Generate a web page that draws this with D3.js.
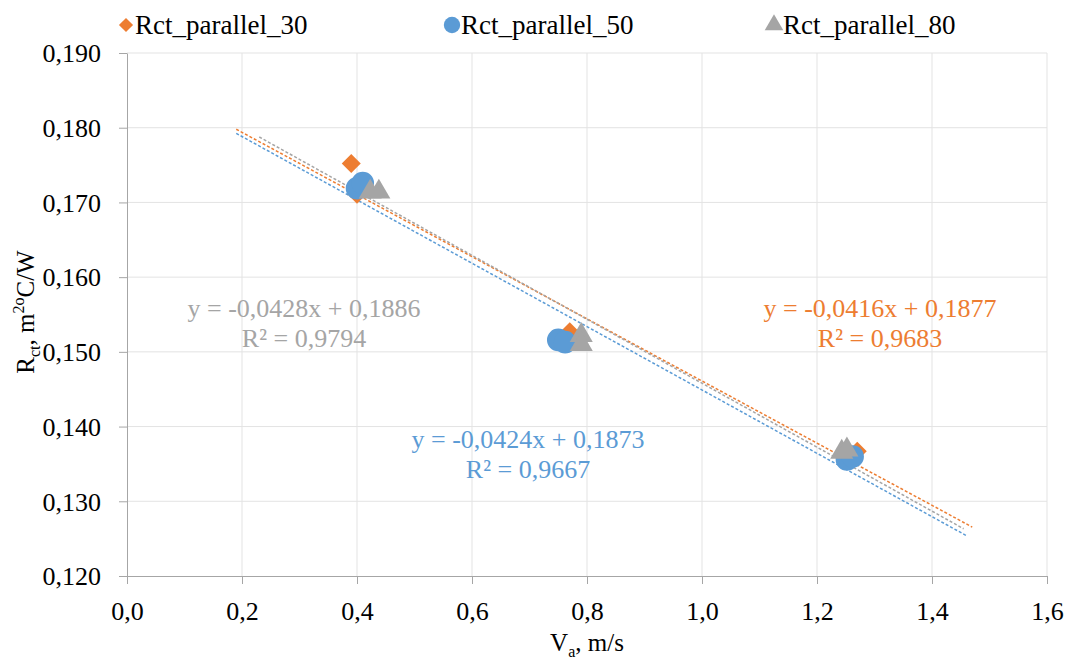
<!DOCTYPE html>
<html>
<head>
<meta charset="utf-8">
<script src="https://cdn.jsdelivr.net/npm/d3@7"></script>
<style>
	body { margin: 0; background: #fff; }
	text { font-family: "Liberation Serif", "Times New Roman", serif; }
</style>
</head>
<body>
<svg id="chart" width="1068" height="659"></svg>
<script>
// series values
var v30 = [0.39, 0.40, 0.77, 1.27];
var r30 = [0.1752, 0.1711, 0.1527, 0.1367];
var v50 = [0.40, 0.41, 0.75, 0.762, 1.252, 1.262];
var r50 = [0.1719, 0.1726, 0.1516, 0.1513, 0.1356, 0.1360];
var v80 = [0.423, 0.438, 0.79, 0.79, 1.243, 1.252];
var r80 = [0.1714, 0.1714, 0.1522, 0.1510, 0.1366, 0.1369];

var seriesNames = ["Rct_parallel_30", "Rct_parallel_50", "Rct_parallel_80"];
var slopes = [-0.0416, -0.0424, -0.0428];
var intercepts = [0.1877, 0.1873, 0.1886];
var r2 = ["0,9683", "0,9667", "0,9794"];
var trendStart = [0.19, 0.19, 0.23];
var trendEnd = [1.47, 1.46, 1.455];

var xTicks = [0, 0.2, 0.4, 0.6, 0.8, 1.0, 1.2, 1.4, 1.6];
var yTicks = [0.12, 0.13, 0.14, 0.15, 0.16, 0.17, 0.18, 0.19];

var colors = ["#ED7D31", "#5B9BD5", "#A5A5A5"];
var comma = function(s) { return s.replace(".", ","); };

var svg = d3.select("#chart");
var mLeft = 127, mTop = 53, w = 920, h = 523;

var x = d3.scaleLinear().domain([0, 1.6]).range([mLeft, mLeft + w]);
var y = d3.scaleLinear().domain([0.12, 0.19]).range([mTop + h, mTop]);

// grid
svg.append("g").selectAll("line")
	.data(yTicks.slice(1))
	.enter().append("line")
	.attr("x1", mLeft).attr("x2", mLeft + w)
	.attr("y1", function(d) { return y(d); })
	.attr("y2", function(d) { return y(d); })
	.attr("stroke", "#e3e3e3").attr("stroke-width", 1);
svg.append("g").selectAll("line")
	.data(xTicks.slice(1))
	.enter().append("line")
	.attr("y1", mTop).attr("y2", mTop + h)
	.attr("x1", function(d) { return x(d); })
	.attr("x2", function(d) { return x(d); })
	.attr("stroke", "#e3e3e3").attr("stroke-width", 1);

// axes
var xAxis = svg.append("g")
	.attr("transform", "translate(0," + (mTop + h) + ")")
	.call(d3.axisBottom(x).tickValues(xTicks).tickSize(8).tickSizeOuter(0).tickPadding(18)
		.tickFormat(function(d) { return comma(d3.format(".1f")(d)); }));
var yAxis = svg.append("g")
	.attr("transform", "translate(" + mLeft + ",0)")
	.call(d3.axisLeft(y).tickValues(yTicks).tickSize(8).tickSizeOuter(0).tickPadding(18)
		.tickFormat(function(d) { return comma(d3.format(".3f")(d)); }));
[xAxis, yAxis].forEach(function(a) {
	a.select(".domain").attr("stroke", "#a6a6a6");
	a.selectAll(".tick line").attr("stroke", "#a6a6a6");
	a.selectAll(".tick text")
		.attr("fill", "#000")
		.style("font-family", "Liberation Serif")
		.style("font-size", "26px");
});
yAxis.selectAll(".tick text").attr("dy", "0.34em");

// trendlines
for (var i = 0; i < 3; i++) {
	svg.append("line")
		.attr("x1", x(trendStart[i]))
		.attr("y1", y(slopes[i] * trendStart[i] + intercepts[i]))
		.attr("x2", x(trendEnd[i]))
		.attr("y2", y(slopes[i] * trendEnd[i] + intercepts[i]))
		.attr("stroke", colors[i])
		.attr("stroke-width", 1.5)
		.attr("stroke-dasharray", "3,2");
}

// markers: diamond = square turned 45 degrees
var symbols = [d3.symbolSquare, d3.symbolCircle, d3.symbolTriangle];
var sizes = [180, 400, 230];
var turn = [" rotate(45)", "", ""];
var data = [[v30, r30], [v50, r50], [v80, r80]];
data.forEach(function(s, i) {
	var pts = s[0].map(function(v, k) { return [v, s[1][k]]; });
	svg.append("g").selectAll("path")
		.data(pts)
		.enter().append("path")
		.attr("d", d3.symbol().type(symbols[i]).size(sizes[i]))
		.attr("transform", function(d) {
			return "translate(" + x(d[0]) + "," + y(d[1]) + ")" + turn[i];
		})
		.attr("fill", colors[i]);
});

// trendline labels
var eqPos = [[880, 317], [528, 448], [304, 317]];
for (var j = 0; j < 3; j++) {
	var g = svg.append("g")
		.attr("fill", colors[j])
		.attr("text-anchor", "middle")
		.style("font-size", "26px");
	g.append("text")
		.attr("x", eqPos[j][0]).attr("y", eqPos[j][1])
		.text("y = " + comma(String(slopes[j])) + "x + " + comma(String(intercepts[j])));
	g.append("text")
		.attr("x", eqPos[j][0]).attr("y", eqPos[j][1] + 30)
		.text("R² = " + r2[j]);
}

// legend
var legX = [126, 452, 774];
var legSizes = [100, 210, 150];
seriesNames.forEach(function(n, i) {
	svg.append("path")
		.attr("d", d3.symbol().type(symbols[i]).size(legSizes[i]))
		.attr("transform", "translate(" + legX[i] + ",25)" + turn[i])
		.attr("fill", colors[i]);
	svg.append("text")
		.attr("x", legX[i] + 9).attr("y", 34)
		.style("font-size", "27px")
		.text(n);
});

// axis titles
var yt = svg.append("text")
	.attr("transform", "translate(34,312) rotate(-90)")
	.attr("text-anchor", "middle")
	.style("font-size", "25px");
yt.append("tspan").text("R");
yt.append("tspan").attr("dy", 6).style("font-size", "16px").text("ct");
yt.append("tspan").attr("dy", -6).text(", m");
yt.append("tspan").attr("dy", -10).style("font-size", "16px").text("2o");
yt.append("tspan").attr("dy", 10).text("C/W");

var xt = svg.append("text")
	.attr("x", 587).attr("y", 651)
	.attr("text-anchor", "middle")
	.style("font-size", "25px");
xt.append("tspan").text("V");
xt.append("tspan").attr("dy", 6).style("font-size", "16px").text("a");
xt.append("tspan").attr("dy", -6).text(", m/s");
</script>
</body>
</html>
